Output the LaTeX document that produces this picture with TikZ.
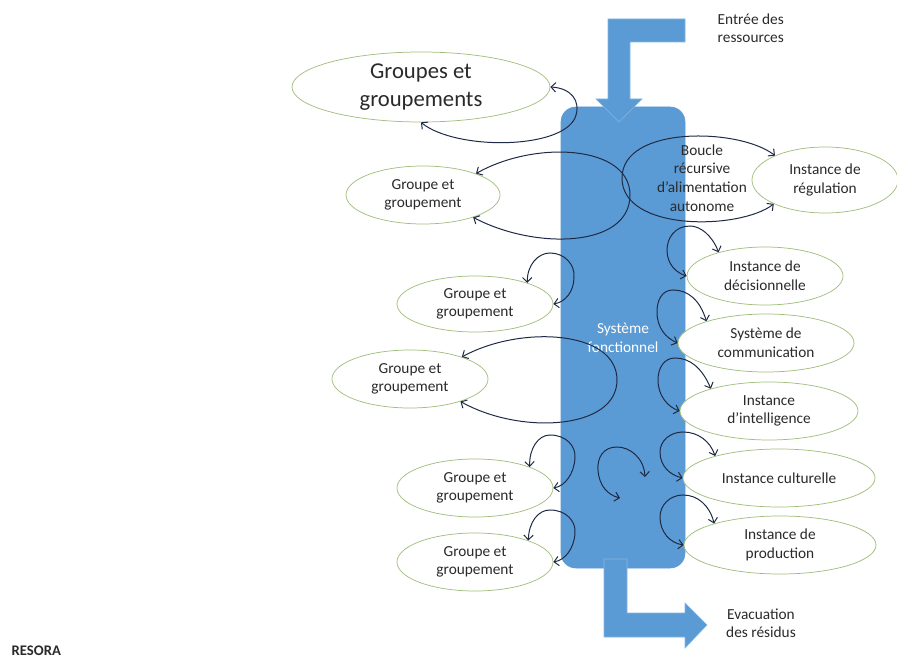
\documentclass[tikz,border=0pt]{standalone}
\usepackage{fontspec}
\setmainfont{Carlito}
\usetikzlibrary{shapes.geometric,arrows.meta}
\definecolor{colblue}{HTML}{5B9BD5}
\definecolor{elgreen}{HTML}{A2BE7E}
\definecolor{loopc}{HTML}{1F2A44}
\definecolor{txt}{HTML}{2A2A2A}
\begin{document}
\begin{tikzpicture}[x=0.75pt,y=-0.75pt,
  el/.style={ellipse, draw=elgreen, line width=0.55pt, fill=white, inner sep=0pt,
    align=center, text=txt, font=\fontsize{11.5}{14}\selectfont},
  loop/.style={draw=loopc, line width=0.75pt,
    {Straight Barb[length=3.5pt,width=7pt]}-{Straight Barb[length=3.5pt,width=7pt]}},
  flow/.style={fill=colblue, draw=colblue!75!white, line width=0.4pt},
  lbl/.style={text=txt, font=\fontsize{11.5}{13.5}\selectfont}]
\path[use as bounding box] (0,0) rectangle (897,659);

% central column
\node[rectangle, rounded corners=11pt, fill=colblue, draw=colblue,
  minimum width=93pt, minimum height=345.75pt, align=center, text=white,
  font=\fontsize{11.5}{14}\selectfont] (sys) at (623,337.5) {Système\\fonctionnel};

% input / output arrows
\path[flow] (685,19) -- (608,19) -- (608,99) -- (596,99) -- (619,122) -- (642,99)
  -- (630,99) -- (630,42) -- (685,42) -- cycle;
\path[flow] (604,559) -- (604,637) -- (685,637) -- (685,648) -- (707,625)
  -- (685,603) -- (685,613) -- (627,613) -- (627,559) -- cycle;

% left ellipses
\node[el, minimum width=193.5pt, minimum height=52.5pt,
  font=\fontsize{17}{20.5}\selectfont] (e1) at (421,87) {Groupes et\\groupements};
\node[el, minimum width=115.5pt, minimum height=43.5pt] (e2) at (423,195) {Groupe et\\groupement};
\node[el, minimum width=117pt, minimum height=42pt] (e3) at (475,304) {Groupe et\\groupement};
\node[el, minimum width=117pt, minimum height=43.5pt] (e4) at (410,379) {Groupe et\\groupement};
\node[el, minimum width=117pt, minimum height=43.5pt] (e5) at (475,488) {Groupe et\\groupement};
\node[el, minimum width=117pt, minimum height=43.5pt] (e6) at (475,562) {Groupe et\\groupement};

% right ellipses
\node[el, minimum width=109.5pt, minimum height=49.5pt] (reg) at (825,180) {Instance de\\régulation};
\node[el, minimum width=117pt, minimum height=43.5pt] (dec) at (765,276) {Instance de\\décisionnelle};
\node[el, minimum width=132pt, minimum height=43.5pt] (com) at (766,343) {Système de\\communication};
\node[el, minimum width=133.5pt, minimum height=43.5pt] (int) at (769,411) {Instance\\d’intelligence};
\node[el, minimum width=144pt, minimum height=43.5pt] (cul) at (779,478) {Instance culturelle};
\node[el, minimum width=144pt, minimum height=43.5pt] (prod) at (780,545) {Instance de\\production};

% boucle
\node[align=center, text=txt, font=\fontsize{11.5}{14}\selectfont] (boucle) at (702,178)
  {Boucle\\récursive\\d’alimentation\\autonome};
\path[loop] (reg.154) .. controls (740,128) and (622,125) .. (622,178)
  .. controls (622,232) and (740,230) .. (reg.205);

% left loops
\path[loop] (e1.south) .. controls (455,150) and (560,150) .. (575,118)
  .. controls (582,100) and (570,88) .. (e1.east);
\path[loop] (e2.22) .. controls (535,140) and (630,145) .. (630,195)
  .. controls (630,248) and (535,250) .. (e2.-24);
\path[loop] (e3.22) .. controls (527,265) and (538,253) .. (550,253)
  .. controls (565,253) and (575,265) .. (574,277)
  .. controls (574,292) and (565,302) .. (e3.east);
\path[loop] (e4.23) .. controls (520,325) and (617,330) .. (617,380)
  .. controls (617,430) and (520,435) .. (e4.-24);
\path[loop] (e5.21) .. controls (529,449) and (538,435) .. (550,435)
  .. controls (566,435) and (576,446) .. (575,458)
  .. controls (574,474) and (565,486) .. (e5.east);
\path[loop] (e6.22) .. controls (529,522) and (538,510) .. (550,510)
  .. controls (566,510) and (576,521) .. (575,533)
  .. controls (574,549) and (565,560) .. (e6.east);

% middle loop
\coordinate (ma) at (645,477);
\coordinate (mb) at (620,498);
\path[loop] (ma) .. controls (644,458) and (630,447) .. (617,447)
  .. controls (603,447) and (597,458) .. (598,470)
  .. controls (599,486) and (608,495) .. (mb);

% right loops
\path[loop] (dec.153) .. controls (712,235) and (700,226) .. (690,226)
  .. controls (675,226) and (667,238) .. (667,250)
  .. controls (667,265) and (677,273) .. (dec.west);
\path[loop] (com.160) .. controls (700,300) and (688,290) .. (673,290)
  .. controls (662,290) and (657,300) .. (657,312)
  .. controls (657,328) and (666,338) .. (com.west);
\path[loop] (int.159) .. controls (702,368) and (690,358) .. (675,358)
  .. controls (664,358) and (658,368) .. (658,380)
  .. controls (658,396) and (668,407) .. (int.west);
\path[loop] (cul.161) .. controls (710,441) and (698,432) .. (683,432)
  .. controls (670,432) and (660,441) .. (660,452)
  .. controls (660,466) and (670,475) .. (cul.west);
\path[loop] (prod.162) .. controls (710,506) and (698,495) .. (683,495)
  .. controls (670,495) and (660,505) .. (660,517)
  .. controls (660,532) and (670,543) .. (prod.west);

% labels
\node[lbl, align=left, anchor=west] (entree) at (713,28) {Entrée des\\ressources};
\node[lbl, align=center] (evac) at (761,623) {Evacuation\\des résidus};
\node[text=txt, font=\fontsize{11}{13}\selectfont\bfseries, anchor=west] (resora) at (7,651) {RESORA};
\end{tikzpicture}
\end{document}
